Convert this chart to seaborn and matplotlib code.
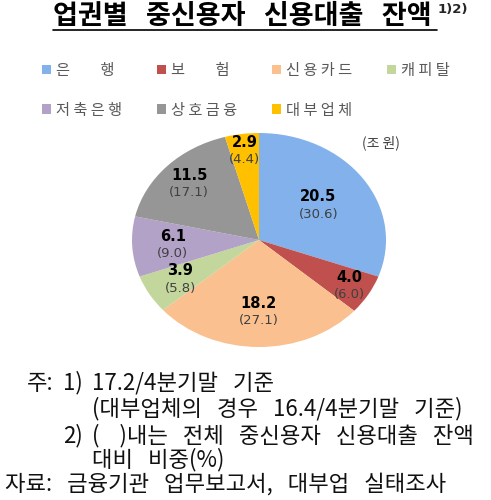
import numpy as np
import seaborn as sns
import matplotlib.pyplot as plt
from matplotlib.lines import Line2D

# data
sectors = ["은행", "보험", "신용카드", "캐피탈", "저축은행", "상호금융", "대부업체"]
legend_labels = ["은\u3000\u3000행", "보\u3000\u3000험", "신 용 카 드", "캐 피 탈",
                 "저 축 은 행", "상 호 금 융", "대 부 업 체"]
amounts = [20.5, 4.0, 18.2, 3.9, 6.1, 11.5, 2.9]      # 조원
shares = [30.6, 6.0, 27.1, 5.8, 9.0, 17.1, 4.4]       # %

colors = ["#82B1EB", "#C0504D", "#FAC08F", "#C3D69B", "#B3A2C7", "#969696", "#FFC000"]
label_r = [0.57, 0.83, 0.67, 0.72, 0.68, 0.76, 0.84]

sns.set_theme(style="white")
plt.rcParams["font.family"] = ["Noto Sans CJK KR", "DejaVu Sans"]

W, H = 491, 500
fig = plt.figure(figsize=(W / 100, H / 100), dpi=100)

def fx(px):
    return px / W

def fy(py):
    return 1 - py / H

# pie drawn as an ellipse (axes not equal aspect)
ax = fig.add_axes([fx(132), fy(347), fx(254), (347 - 133) / H])
wedges, _ = ax.pie(amounts, colors=colors, startangle=90, counterclock=False,
                   wedgeprops=dict(linewidth=0))
ax.set_aspect("auto")
ax.set_xlim(-1, 1)
ax.set_ylim(-1, 1)
ax.axis("off")

for w, amt, sh, r in zip(wedges, amounts, shares, label_r):
    ang = np.deg2rad((w.theta1 + w.theta2) / 2)
    x, y = r * np.cos(ang), r * np.sin(ang)
    ax.annotate(f"{amt:.1f}", (x, y), xytext=(0, 6), textcoords="offset points",
                ha="center", va="center", fontsize=10.5, fontweight="bold",
                family="DejaVu Sans", color="black")
    ax.annotate(f"({sh:.1f})", (x, y), xytext=(0, -6.5), textcoords="offset points",
                ha="center", va="center", fontsize=9.5, family="DejaVu Sans",
                color="#404040")

# legend, row-major order over 4 columns
order = [0, 4, 1, 5, 2, 6, 3]
fig.legend([wedges[i] for i in order], [legend_labels[i] for i in order],
           ncol=4, loc="upper left", bbox_to_anchor=(fx(28), fy(48)),
           frameon=False, fontsize=11, labelcolor="#595959",
           handlelength=0.6, handleheight=0.6, handletextpad=0.3,
           columnspacing=2.3, labelspacing=1.5)

fig.text(fx(362), fy(143), "(조 원)", fontsize=10, color="#404040", va="center")

# title
title = fig.text(fx(53), fy(16), "업권별   중신용자   신용대출   잔액", fontsize=19.5,
                 fontweight="bold", ha="left", va="center", color="black")
fig.text(fx(438), fy(9), "1)2)", fontsize=9.5, fontweight="bold",
         family="DejaVu Sans", ha="left", va="center")
fig.add_artist(Line2D([fx(53), fx(437)], [fy(30), fy(30)], color="black",
                      linewidth=1.2, transform=fig.transFigure))

# notes
fs = 16
notes = [
    (27, 383, "주:"),
    (63, 383, "1)"),
    (92, 383, "17.2/4분기말   기준"),
    (92, 409, "(대부업체의   경우   16.4/4분기말   기준)"),
    (63, 436, "2)"),
    (92, 436, "(    )내는   전체   중신용자   신용대출   잔액"),
    (92, 460, "대비   비중(%)"),
    (5, 484, "자료:   금융기관   업무보고서,   대부업   실태조사"),
]
for px, py, s in notes:
    fig.text(fx(px), fy(py), s, fontsize=fs, ha="left", va="center", color="#111111")

fig.savefig("out.png", dpi=100)
